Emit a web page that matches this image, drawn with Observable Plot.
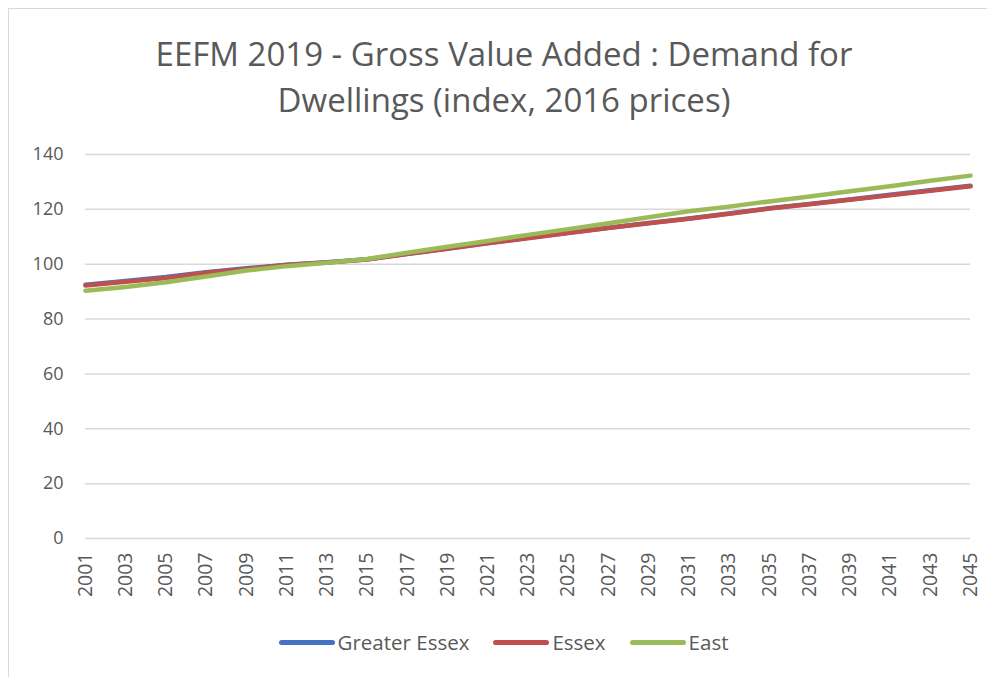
<!DOCTYPE html>
<html>
<head>
<meta charset="utf-8">
<script src="https://cdn.jsdelivr.net/npm/d3@7"></script>
<script src="https://cdn.jsdelivr.net/npm/@observablehq/plot@0.6"></script>
<style>
  html, body { margin: 0; padding: 0; background: #fff; }
  #chart { position: relative; width: 987px; height: 677px; overflow: hidden; font-family: "Open Sans", sans-serif; }
  #frame { position: absolute; left: 8px; top: 8px; width: 990px; height: 680px; border: 1px solid #d9d9d9; box-sizing: border-box; }
  #title { position: absolute; left: 0; width: 1008px; top: 31px; text-align: center; font-size: 33px; line-height: 46px; color: #595959; }
  #plot { position: absolute; left: 0; top: 130px; }
  #legend { position: absolute; left: 0; width: 1007px; top: 628px; display: flex; justify-content: center; align-items: center; font-size: 20.5px; color: #595959; }
  .item { display: flex; align-items: center; margin: 0 12px; }
  .sw { width: 56px; height: 5px; border-radius: 3px; margin-right: 3px; }
</style>
</head>
<body>
<div id="chart">
  <div id="frame"></div>
  <div id="title">EEFM 2019 - Gross Value Added : Demand for<br>Dwellings (index, 2016 prices)</div>
  <div id="plot"></div>
  <div id="legend"></div>
</div>
<script>
const years = [2001,2003,2005,2007,2009,2011,2013,2015,2017,2019,2021,2023,2025,2027,2029,2031,2033,2035,2037,2039,2041,2043,2045];
const greaterEssex = [92.5,93.9,95.3,97.1,98.5,99.8,100.7,101.8,103.8,105.7,107.7,109.6,111.5,113.3,115.0,116.7,118.5,120.4,122.0,123.6,125.3,127.0,128.6];
const essex        = [92.2,93.6,95.0,96.9,98.3,99.7,100.6,101.7,103.7,105.6,107.6,109.5,111.4,113.2,114.9,116.6,118.4,120.3,121.9,123.5,125.1,126.8,128.4];
const east         = [90.3,91.7,93.4,95.5,97.7,99.3,100.5,101.9,104.2,106.4,108.5,110.7,112.8,114.9,117.1,119.3,121.0,122.9,124.7,126.6,128.4,130.4,132.3];
const seriesNames = ["Greater Essex","Essex","East"];
const seriesColors = ["#4472c4","#c0504d","#9bbb59"];
const yTicks = [0,20,40,60,80,100,120,140];
const xTicks = years;

const allSeries = [greaterEssex, essex, east];
const data = [];
seriesNames.forEach((name, i) => {
  years.forEach((yr, j) => data.push({year: yr, value: allSeries[i][j], series: name}));
});

const plot = Plot.plot({
  width: 987,
  height: 480,
  marginTop: 24,
  marginBottom: 72,
  marginLeft: 85,
  marginRight: 17,
  style: { fontFamily: "Open Sans, sans-serif", fontSize: "18px", color: "#595959", background: "transparent" },
  x: { domain: [2001, 2045], ticks: xTicks, tickFormat: d => String(d), tickRotate: -90, tickSize: 0, tickPadding: 14, label: null },
  y: { domain: [0, 140], ticks: yTicks, tickSize: 0, tickPadding: 22, label: null },
  color: { domain: seriesNames, range: seriesColors },
  marks: [
    Plot.gridY(yTicks, { stroke: "#d9d9d9", strokeOpacity: 1, strokeWidth: 1.5 }),
    Plot.line(data, { x: "year", y: "value", z: "series", stroke: "series", strokeWidth: 4.5, curve: "linear" })
  ]
});
plot.querySelectorAll('[aria-label="x-axis tick label"] text').forEach(t => t.style.fontSize = "19.5px");
document.getElementById("plot").appendChild(plot);

const legend = document.getElementById("legend");
seriesNames.forEach((name, i) => {
  const it = document.createElement("div");
  it.className = "item";
  const sw = document.createElement("div");
  sw.className = "sw";
  sw.style.background = seriesColors[i];
  const lb = document.createElement("span");
  lb.textContent = name;
  it.appendChild(sw); it.appendChild(lb);
  legend.appendChild(it);
});
</script>
</body>
</html>
